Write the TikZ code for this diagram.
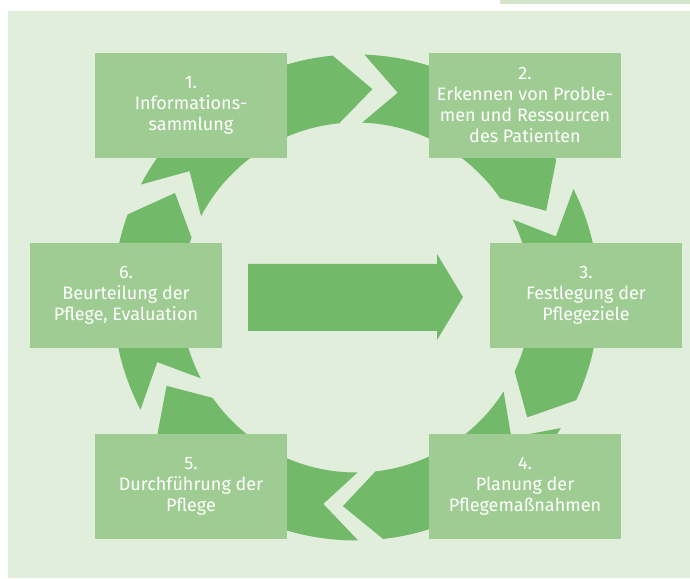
\documentclass[tikz,border=0pt]{standalone}
\usepackage{fontspec}
\setmainfont{Fira Sans}
\usetikzlibrary{calc}
\definecolor{panelbg}{HTML}{E2EEDC}
\definecolor{topbar}{HTML}{D4E5CA}
\definecolor{boxgreen}{HTML}{9FCC93}
\definecolor{ringgreen}{HTML}{72BA69}
% one curved chevron of the cycle: tail angle #1, head angle #2
\newcommand\cyclepart[2]{%
  \pgfmathsetmacro\tipang{#2-10}%
  \pgfmathsetmacro\notchang{#1-9.5}%
  \fill[ringgreen] (#1:243) arc[start angle=#1, end angle=#2, radius=243]
    -- (\tipang:209) -- (#2:175) arc[start angle=#2, end angle=#1, radius=175]
    -- (\notchang:209) -- cycle;}
\begin{document}
\begin{tikzpicture}[x=1pt,y=1pt,
  stepbox/.style={fill=boxgreen, minimum width=192pt, minimum height=105pt,
    inner sep=0pt, text=white, align=center,
    font=\fontsize{18}{21}\selectfont}]
\useasboundingbox (0,0) rectangle (690,578);
% background panel and top strip
\fill[panelbg] (8,0) rectangle (690,567);
\fill[topbar] (500,574) rectangle (690,578);
% ring of six chevrons
\begin{scope}[shift={(356,280.5)}]
  \cyclepart{152.3}{95.5}
  \cyclepart{88}{34.5}
  \cyclepart{26.5}{-25}
  \cyclepart{-32.5}{-83.6}
  \cyclepart{-89.5}{-145}
  \cyclepart{207.5}{160}
\end{scope}
% central arrow
\fill[ringgreen] (248,247) -- (437,247) -- (437,238) -- (463,281)
  -- (437,324) -- (437,314) -- (248,314) -- cycle;
% process steps
\node[stepbox] (s1) at (191,472.5) {1.\\Informations-\\sammlung};
\node[stepbox] (s2) at (525,472.5) {2.\\Erkennen von Proble-\\men und Ressourcen\\des Patienten};
\node[stepbox] (s3) at (586,282.5) {3.\\Festlegung der\\Pflegeziele};
\node[stepbox] (s4) at (525,91.5) {4.\\Planung der\\Pflegemaßnahmen};
\node[stepbox] (s5) at (191,91.5) {5.\\Durchführung der\\Pflege};
\node[stepbox] (s6) at (126,282.5) {6.\\Beurteilung der\\Pflege, Evaluation};
\end{tikzpicture}
\end{document}
